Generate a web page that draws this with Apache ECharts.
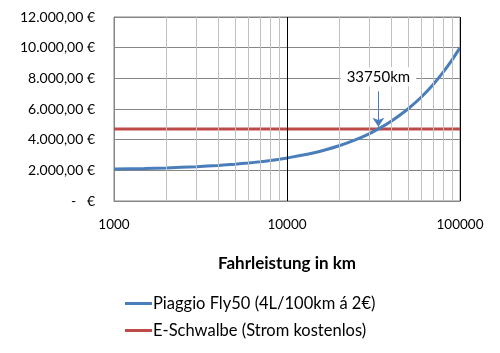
<!DOCTYPE html>
<html lang="de">
<head>
    <meta charset="UTF-8">
    <title>Kostenvergleich</title>
    <script src="https://cdn.jsdelivr.net/npm/echarts@6/dist/echarts.min.js"></script>
    <style>
        html, body {margin: 0; padding: 0; background: #fff;}
    </style>
</head>
<body>
<div id="main" style="width: 500px;height:353px;"></div>
<script>
    // Fahrleistung (km) und Gesamtkosten (€)
    var km = [1000, 1500, 2000, 3000, 4000, 5000, 6000, 7000, 8000, 9000, 10000,
        15000, 20000, 25000, 30000, 35000, 40000, 50000, 60000, 70000, 80000, 90000, 100000];
    var piaggio = [2080, 2120, 2160, 2240, 2320, 2400, 2480, 2560, 2640, 2720, 2800,
        3200, 3600, 4000, 4400, 4800, 5200, 6000, 6800, 7600, 8400, 9200, 10000];
    var schwalbeKm = [1000, 100000];
    var schwalbe = [4700, 4700];

    var yLabels = ['-   €', '2.000,00 €', '4.000,00 €', '6.000,00 €', '8.000,00 €', '10.000,00 €', '12.000,00 €'];
    var xLabels = {1000: '1000', 10000: '10000', 100000: '100000'};
    var minorKm = [2000, 3000, 4000, 5000, 6000, 7000, 8000, 9000,
        20000, 30000, 40000, 50000, 60000, 70000, 80000, 90000];

    var breakEven = 33750;

    var myChart = echarts.init(document.getElementById('main'));

    var font = 'Lato, "Open Sans", sans-serif';

    var option = {
        backgroundColor: '#fff',
        animation: false,
        textStyle: {fontFamily: font},
        grid: {
            left: 114, right: 40, top: 17, bottom: 152,
            show: true, borderColor: '#868686', borderWidth: 1
        },
        legend: {
            data: ['Piaggio Fly50 (4L/100km á 2€)', 'E-Schwalbe (Strom kostenlos)'],
            orient: 'vertical',
            left: 120, top: 290,
            itemWidth: 27, itemHeight: 3, itemGap: 10,
            icon: 'rect',
            textStyle: {fontSize: 16.5, color: '#000', fontFamily: font, padding: [0, 0, 0, -4]}
        },
        xAxis: {
            type: 'log',
            logBase: 10,
            min: 1000,
            max: 100000,
            name: 'Fahrleistung in km',
            nameLocation: 'middle',
            nameGap: 54,
            nameTextStyle: {fontSize: 17, fontWeight: 'bold', color: '#000', fontFamily: font},
            axisLine: {lineStyle: {color: '#868686'}},
            axisTick: {show: false},
            axisLabel: {
                margin: 17, fontSize: 13.5, color: '#000', fontFamily: font,
                formatter: function (v) { return xLabels[Math.round(v)] || ''; }
            },
            splitLine: {show: true, lineStyle: {color: '#868686'}}
        },
        yAxis: {
            type: 'value',
            min: 0, max: 12000, interval: 2000,
            axisLine: {show: true, lineStyle: {color: '#868686'}},
            axisTick: {show: false},
            axisLabel: {
                margin: 19, fontSize: 14, color: '#000', fontFamily: font,
                formatter: function (v) { return yLabels[Math.round(v / 2000)]; }
            },
            splitLine: {show: true, lineStyle: {color: '#868686'}}
        },
        series: [
            {
                name: 'grid',
                type: 'line',
                data: [],
                z: 1,
                markLine: {
                    silent: true,
                    symbol: ['none', 'none'],
                    label: {show: false},
                    lineStyle: {color: '#c0c0c0', width: 1, type: 'solid'},
                    data: minorKm.map(function (v) { return {xAxis: v}; })
                        .concat([
                            {xAxis: 10000, lineStyle: {color: '#000', width: 1, type: 'solid'}},
                            {xAxis: 100000, lineStyle: {color: '#000', width: 1, type: 'solid'}}
                        ])
                }
            },
            {
                name: 'Piaggio Fly50 (4L/100km á 2€)',
                type: 'line',
                z: 4,
                data: km.map(function (k, i) { return [k, piaggio[i]]; }),
                smooth: 0.3,
                showSymbol: false,
                color: '#4a7ebb',
                lineStyle: {width: 3, color: '#4a7ebb'}
            },
            {
                name: 'E-Schwalbe (Strom kostenlos)',
                type: 'line',
                z: 3,
                data: schwalbeKm.map(function (k, i) { return [k, schwalbe[i]]; }),
                showSymbol: false,
                color: '#be4b48',
                lineStyle: {width: 3, color: '#be4b48'},
                markLine: {
                    silent: true,
                    symbol: ['none', 'arrow'],
                    symbolSize: [9, 9],
                    label: {show: false},
                    lineStyle: {color: '#4a7ebb', width: 1, type: 'solid'},
                    data: [[{coord: [breakEven, 7150]}, {coord: [breakEven, 4850]}]]
                },
                markPoint: {
                    silent: true,
                    symbol: 'rect',
                    symbolSize: 0,
                    data: [{coord: [breakEven, 8100]}],
                    label: {
                        show: true,
                        formatter: breakEven + 'km',
                        position: 'inside',
                        color: '#000',
                        fontSize: 15,
                        fontFamily: font,
                        backgroundColor: '#fff',
                        padding: [2, 6]
                    }
                }
            }
        ]
    };

    myChart.setOption(option);
</script>
</body>
</html>
